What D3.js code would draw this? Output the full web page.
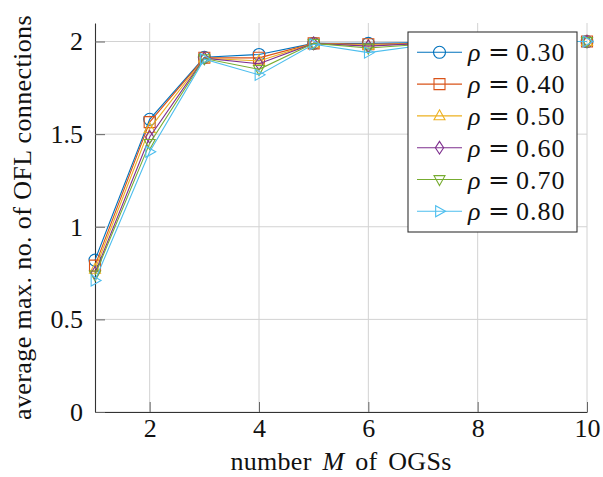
<!DOCTYPE html>
<html>
<head>
<meta charset="utf-8">
<script src="https://cdn.jsdelivr.net/npm/d3@7"></script>
<style>
  body { margin: 0; background: #fff; }
  text { font-family: "Liberation Serif", "DejaVu Serif", serif; }
</style>
</head>
<body>
<svg id="canvas"></svg>
<script>
// values
let ogsCounts = [1, 2, 3, 4, 5, 6, 7, 8, 9, 10]
let rhoLabels = ["0.30", "0.40", "0.50", "0.60", "0.70", "0.80"]
let rho30 = [0.82, 1.58, 1.915, 1.93, 1.99, 1.99, 1.995, 2.0, 2.0, 2.0]
let rho40 = [0.79, 1.565, 1.912, 1.912, 1.99, 1.985, 1.99, 2.0, 2.0, 2.0]
let rho50 = [0.77, 1.53, 1.91, 1.895, 1.99, 1.98, 1.99, 1.995, 2.0, 2.0]
let rho60 = [0.75, 1.485, 1.91, 1.88, 1.99, 1.975, 1.99, 1.995, 2.0, 2.0]
let rho70 = [0.74, 1.45, 1.908, 1.85, 1.99, 1.965, 1.985, 1.995, 2.0, 2.0]
let rho80 = [0.71, 1.405, 1.905, 1.82, 1.985, 1.94, 1.98, 1.99, 2.0, 2.0]
let xTicks = [2, 4, 6, 8, 10]
let yTicks = [0, 0.5, 1, 1.5, 2]

let allSeries = [rho30, rho40, rho50, rho60, rho70, rho80]
let colors = ["#0072BD", "#D95319", "#EDB120", "#7E2F8E", "#77AC30", "#4DBEEE"]
let markers = ["circle", "square", "triUp", "diamond", "triDown", "triRight"]

let width = 603
let height = 477
let margin = { top: 23, right: 16, bottom: 65, left: 95 }
let fontSize = 26

let canvas = d3.select("#canvas").attr("width", width).attr("height", height)

let xScale = d3.scaleLinear().domain([1, 10]).range([margin.left, width - margin.right])
let yScale = d3.scaleLinear().domain([0, 2.1]).range([height - margin.bottom, margin.top])

// grid
canvas.append("g").selectAll("line")
      .data(xTicks).enter().append("line")
      .attr("x1", d => xScale(d)).attr("x2", d => xScale(d))
      .attr("y1", yScale(0)).attr("y2", yScale(2.1))
      .attr("stroke", "#d2d2d2").attr("stroke-width", 1)
canvas.append("g").selectAll("line")
      .data(yTicks).enter().append("line")
      .attr("x1", xScale(1)).attr("x2", xScale(10))
      .attr("y1", d => yScale(d)).attr("y2", d => yScale(d))
      .attr("stroke", "#d2d2d2").attr("stroke-width", 1)

// axes (left + bottom only, inward ticks)
let xAxis = d3.axisBottom(xScale).tickValues(xTicks).tickSizeInner(-10).tickSizeOuter(0).tickPadding(7)
let yAxis = d3.axisLeft(yScale).tickValues(yTicks).tickSizeInner(-10).tickSizeOuter(0).tickPadding(12)
  .tickFormat(d3.format("~g"))

let gx = canvas.append("g").attr("transform", "translate(0," + yScale(0) + ")").call(xAxis)
let gy = canvas.append("g").attr("transform", "translate(" + xScale(1) + ",0)").call(yAxis)
;[gx, gy].forEach(g => {
  g.select(".domain").attr("stroke", "#333").attr("stroke-width", 1.1)
  g.selectAll(".tick line").attr("stroke", "#666")
  g.selectAll(".tick text").attr("font-size", fontSize).attr("fill", "#111")
    .style("font-family", "'Liberation Serif', serif")
})

// marker shapes
let markerPath = (type, s) => {
  if (type == "square") return `M${-s},${-s}H${s}V${s}H${-s}Z`
  if (type == "triUp") return `M0,${-s * 1.1}L${s},${s * 0.7}L${-s},${s * 0.7}Z`
  if (type == "triDown") return `M0,${s * 1.1}L${s},${-s * 0.7}L${-s},${-s * 0.7}Z`
  if (type == "triRight") return `M${s * 1.1},0L${-s * 0.7},${s}L${-s * 0.7},${-s}Z`
  if (type == "diamond") return `M0,${-s * 1.15}L${s * 0.75},0L0,${s * 1.15}L${-s * 0.75},0Z`
  return null
}
let drawMarker = (g, type, color, x, y) => {
  if (type == "circle") {
    g.append("circle").attr("cx", x).attr("cy", y).attr("r", 6)
     .attr("fill", "none").attr("stroke", color).attr("stroke-width", 1.1)
  } else {
    g.append("path").attr("d", markerPath(type, 5.5))
     .attr("transform", "translate(" + x + "," + y + ")")
     .attr("fill", "none").attr("stroke", color).attr("stroke-width", 1.1)
  }
}

let line = d3.line().x((d, i) => xScale(ogsCounts[i])).y(d => yScale(d))

allSeries.forEach((series, k) => {
  let g = canvas.append("g")
  g.append("path").attr("d", line(series))
   .attr("fill", "none").attr("stroke", colors[k]).attr("stroke-width", 1.1)
  series.forEach((v, i) => drawMarker(g, markers[k], colors[k], xScale(ogsCounts[i]), yScale(v)))
})

// legend
let legend = canvas.append("g")
legend.append("rect").attr("x", 408).attr("y", 32).attr("width", 169).attr("height", 200)
      .attr("fill", "#fff").attr("stroke", "#333").attr("stroke-width", 1.1)
rhoLabels.forEach((lab, k) => {
  let cy = 52.3 + k * 31.8
  legend.append("line").attr("x1", 417).attr("x2", 462).attr("y1", cy).attr("y2", cy)
        .attr("stroke", colors[k]).attr("stroke-width", 1.1)
  drawMarker(legend, markers[k], colors[k], 439.5, cy)
  let t = legend.append("text").attr("y", cy + 9).attr("font-size", fontSize).attr("fill", "#111")
  t.append("tspan").attr("x", 468).attr("font-style", "italic").text("ρ")
  t.append("tspan").attr("x", 488).style("font-family", "'DejaVu Serif', serif").text("=")
  t.append("tspan").attr("x", 516).attr("letter-spacing", 1).text(lab)
})

// axis labels
let xl = canvas.append("text").attr("x", (xScale(1) + xScale(10)) / 2).attr("y", 470)
      .attr("text-anchor", "middle").attr("font-size", fontSize).attr("fill", "#111")
      .attr("word-spacing", 4).attr("letter-spacing", 0.3)
xl.append("tspan").text("number ")
xl.append("tspan").attr("font-style", "italic").text("M")
xl.append("tspan").text(" of OGSs")

canvas.append("text")
      .attr("transform", "translate(31," + (yScale(0) + yScale(2.1)) / 2 + ") rotate(-90)")
      .attr("text-anchor", "middle").attr("font-size", fontSize).attr("fill", "#111")
      .attr("letter-spacing", 0.4)
      .text("average max. no. of OFL connections")
</script>
</body>
</html>
